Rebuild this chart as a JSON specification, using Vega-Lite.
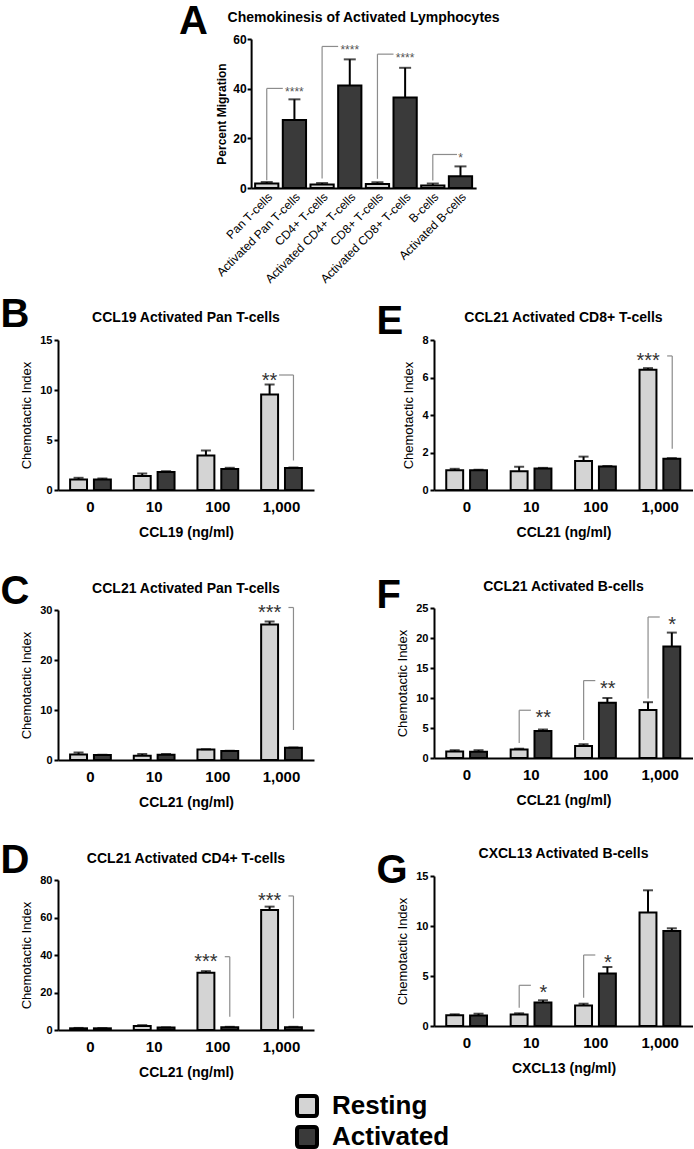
{
  "$schema": "https://vega.github.io/schema/vega-lite/v6.json",
  "padding": {"top": 1, "left": 0, "right": 0, "bottom": 0},
  "background": "white",
  "config": {
    "font": "Liberation Sans",
    "view": {"stroke": null},
    "title": {"fontSize": 14, "fontWeight": "bold", "color": "black", "anchor": "middle", "frame": "group"},
    "axis": {"grid": false, "domainColor": "black", "domainWidth": 2, "tickColor": "black", "tickWidth": 2, "labelColor": "black", "titleColor": "black", "labelOverlap": false},
    "axisX": {"ticks": false, "labelAngle": 0, "labelFontSize": 15, "labelFontWeight": "bold", "labelPadding": 9, "titleFontSize": 14, "titleFontWeight": "bold", "titlePadding": 11, "labelOverlap": false},
    "axisY": {"tickSize": 4, "tickCount": 20, "format": "d", "labelFontSize": 11, "labelFontWeight": "bold", "labelPadding": 2, "titleFontSize": 13, "titleFontWeight": "normal", "titlePadding": 6, "labelOverlap": false},
    "legend": {
      "orient": "none", "legendX": 236, "legendY": 1054,
      "symbolType": "M-0.72,-1H0.72Q1,-1 1,-0.72V0.72Q1,1 0.72,1H-0.72Q-1,1 -1,0.72V-0.72Q-1,-1 -0.72,-1Z",
      "symbolSize": 400, "symbolStrokeColor": "black", "symbolStrokeWidth": 4, "symbolOpacity": 1,
      "labelFontSize": 26, "labelFontWeight": "bold", "labelColor": "black", "rowPadding": -6, "labelOffset": 12
    }
  },
  "datasets": {
    "a_bars": [
      {"cell": "Pan T-cells", "group": "Resting", "value": 1.8, "hi": 2.4},
      {"cell": "Activated Pan T-cells", "group": "Activated", "value": 27.4, "hi": 35.7},
      {"cell": "CD4+ T-cells", "group": "Resting", "value": 1.4, "hi": 2.0},
      {"cell": "Activated CD4+ T-cells", "group": "Activated", "value": 41.3, "hi": 51.8},
      {"cell": "CD8+ T-cells", "group": "Resting", "value": 1.6, "hi": 2.3},
      {"cell": "Activated CD8+ T-cells", "group": "Activated", "value": 36.4, "hi": 48.4},
      {"cell": "B-cells", "group": "Resting", "value": 1.0, "hi": 1.8},
      {"cell": "Activated B-cells", "group": "Activated", "value": 4.7, "hi": 8.7}
    ],
    "a_sig": [
      {"rest": "Pan T-cells", "act": "Activated Pan T-cells", "stars": "****", "level": 40.1, "bottom": 3.1},
      {"rest": "CD4+ T-cells", "act": "Activated CD4+ T-cells", "stars": "****", "level": 57.0, "bottom": 3.8},
      {"rest": "CD8+ T-cells", "act": "Activated CD8+ T-cells", "stars": "****", "level": 53.9, "bottom": 3.7},
      {"rest": "B-cells", "act": "Activated B-cells", "stars": "*", "level": 13.5, "bottom": 3.0}
    ],
    "b_bars": [
      {"conc": "0", "group": "Resting", "value": 1.05, "hi": 1.22},
      {"conc": "0", "group": "Activated", "value": 1.05, "hi": 1.15},
      {"conc": "10", "group": "Resting", "value": 1.4, "hi": 1.65},
      {"conc": "10", "group": "Activated", "value": 1.8, "hi": 1.88},
      {"conc": "100", "group": "Resting", "value": 3.45, "hi": 3.95},
      {"conc": "100", "group": "Activated", "value": 2.1, "hi": 2.22},
      {"conc": "1,000", "group": "Resting", "value": 9.55, "hi": 10.55},
      {"conc": "1,000", "group": "Activated", "value": 2.2, "hi": 2.25}
    ],
    "b_sig": [{"conc": "1,000", "stars": "**", "level": 11.5, "bottom": 2.95}],
    "c_bars": [
      {"conc": "0", "group": "Resting", "value": 1.1, "hi": 1.5},
      {"conc": "0", "group": "Activated", "value": 1.0, "hi": 1.05},
      {"conc": "10", "group": "Resting", "value": 0.85, "hi": 1.2},
      {"conc": "10", "group": "Activated", "value": 1.05, "hi": 1.2},
      {"conc": "100", "group": "Resting", "value": 2.1, "hi": 2.15},
      {"conc": "100", "group": "Activated", "value": 1.8, "hi": 1.85},
      {"conc": "1,000", "group": "Resting", "value": 27.1, "hi": 27.7},
      {"conc": "1,000", "group": "Activated", "value": 2.45, "hi": 2.5}
    ],
    "c_sig": [{"conc": "1,000", "stars": "***", "level": 30.5, "bottom": 6.0}],
    "d_bars": [
      {"conc": "0", "group": "Resting", "value": 0.9, "hi": 1.1},
      {"conc": "0", "group": "Activated", "value": 0.9, "hi": 1.0},
      {"conc": "10", "group": "Resting", "value": 2.2, "hi": 2.6},
      {"conc": "10", "group": "Activated", "value": 1.3, "hi": 1.4},
      {"conc": "100", "group": "Resting", "value": 30.5, "hi": 31.4},
      {"conc": "100", "group": "Activated", "value": 1.5, "hi": 1.7},
      {"conc": "1,000", "group": "Resting", "value": 64.0, "hi": 65.8},
      {"conc": "1,000", "group": "Activated", "value": 1.5, "hi": 1.7}
    ],
    "d_sig": [
      {"conc": "100", "stars": "***", "level": 39.1, "bottom": 7.1},
      {"conc": "1,000", "stars": "***", "level": 71.5, "bottom": 6.2}
    ],
    "e_bars": [
      {"conc": "0", "group": "Resting", "value": 1.05, "hi": 1.13},
      {"conc": "0", "group": "Activated", "value": 1.05, "hi": 1.08},
      {"conc": "10", "group": "Resting", "value": 1.0, "hi": 1.24},
      {"conc": "10", "group": "Activated", "value": 1.15, "hi": 1.18},
      {"conc": "100", "group": "Resting", "value": 1.55, "hi": 1.78},
      {"conc": "100", "group": "Activated", "value": 1.25, "hi": 1.28},
      {"conc": "1,000", "group": "Resting", "value": 6.42, "hi": 6.5},
      {"conc": "1,000", "group": "Activated", "value": 1.67, "hi": 1.7}
    ],
    "e_sig": [{"conc": "1,000", "stars": "***", "level": 7.15, "bottom": 2.2}],
    "f_bars": [
      {"conc": "0", "group": "Resting", "value": 1.1, "hi": 1.3},
      {"conc": "0", "group": "Activated", "value": 1.05, "hi": 1.3},
      {"conc": "10", "group": "Resting", "value": 1.4, "hi": 1.55},
      {"conc": "10", "group": "Activated", "value": 4.5, "hi": 4.75},
      {"conc": "100", "group": "Resting", "value": 2.0, "hi": 2.3},
      {"conc": "100", "group": "Activated", "value": 9.2, "hi": 10.0},
      {"conc": "1,000", "group": "Resting", "value": 8.0, "hi": 9.3},
      {"conc": "1,000", "group": "Activated", "value": 18.6, "hi": 20.9}
    ],
    "f_sig": [
      {"conc": "10", "stars": "**", "level": 7.96, "bottom": 2.5},
      {"conc": "100", "stars": "**", "level": 12.9, "bottom": 3.0},
      {"conc": "1,000", "stars": "*", "level": 23.5, "bottom": 9.9}
    ],
    "g_bars": [
      {"conc": "0", "group": "Resting", "value": 1.07, "hi": 1.17},
      {"conc": "0", "group": "Activated", "value": 1.05, "hi": 1.23},
      {"conc": "10", "group": "Resting", "value": 1.15, "hi": 1.27},
      {"conc": "10", "group": "Activated", "value": 2.35, "hi": 2.57},
      {"conc": "100", "group": "Resting", "value": 2.05, "hi": 2.23},
      {"conc": "100", "group": "Activated", "value": 5.25, "hi": 5.9},
      {"conc": "1,000", "group": "Resting", "value": 11.35, "hi": 13.57},
      {"conc": "1,000", "group": "Activated", "value": 9.5, "hi": 9.77}
    ],
    "g_sig": [
      {"conc": "10", "stars": "*", "level": 4.07, "bottom": 1.83},
      {"conc": "100", "stars": "*", "level": 7.1, "bottom": 2.83}
    ]
  },
  "spacing": 10,
  "center": true,
  "vconcat": [
    {
      "width": 225, "height": 149,
      "title": {"text": "Chemokinesis of Activated Lymphocytes", "offset": -23.3},
      "layer": [
        {"data": {"name": "a_bars"}, "mark": {"type": "bar", "stroke": "black", "strokeWidth": 2},
         "encoding": {
           "x": {"field": "cell", "type": "nominal", "scale": {"domain": ["Pan T-cells", "Activated Pan T-cells", "CD4+ T-cells", "Activated CD4+ T-cells", "CD8+ T-cells", "Activated CD8+ T-cells", "B-cells", "Activated B-cells"], "paddingInner": 0.16, "paddingOuter": 0.145},
                 "axis": {"title": null, "labelAngle": -45, "labelFontSize": 12, "labelFontWeight": "normal", "labelPadding": 3, "labelOverlap": false}},
           "y": {"field": "value", "type": "quantitative", "scale": {"domain": [0, 60], "nice": false},
                 "axis": {"values": [0, 20, 40, 60], "title": "Percent Migration", "titleFontWeight": "bold", "titleFontSize": 12, "labelFontSize": 12, "labelPadding": 1, "titlePadding": 4}},
           "fill": {"field": "group", "type": "nominal", "scale": {"domain": ["Resting", "Activated"], "range": ["#d4d4d4", "#3a3a3a"]}, "legend": {"title": null}}
         }},
        {"data": {"name": "a_bars"}, "mark": {"type": "rule", "color": "black", "strokeWidth": 2},
         "encoding": {"x": {"field": "cell", "type": "nominal"}, "y": {"field": "value", "type": "quantitative"}, "y2": {"field": "hi"}}},
        {"data": {"name": "a_bars"}, "mark": {"type": "tick", "orient": "horizontal", "size": 12, "thickness": 2, "color": "black"},
         "encoding": {"x": {"field": "cell", "type": "nominal"}, "y": {"field": "hi", "type": "quantitative"}}},
        {"data": {"name": "a_sig"}, "mark": {"type": "rule", "color": "#8c8c8c", "strokeWidth": 1.2},
         "encoding": {"x": {"field": "rest", "type": "nominal"}, "y": {"field": "level", "type": "quantitative"}, "y2": {"field": "bottom"}}},
        {"data": {"name": "a_sig"}, "transform": [{"filter": "datum.stars != '*'"}], "mark": {"type": "rule", "color": "#8c8c8c", "strokeWidth": 1.2},
         "encoding": {"x": {"field": "rest", "type": "nominal"}, "x2": {"field": "act", "bandPosition": 0}, "y": {"field": "level", "type": "quantitative"}}},
        {"data": {"name": "a_sig"}, "transform": [{"filter": "datum.stars == '*'"}], "mark": {"type": "rule", "color": "#8c8c8c", "strokeWidth": 1.2},
         "encoding": {"x": {"field": "rest", "type": "nominal"}, "x2": {"field": "act", "bandPosition": 0.35}, "y": {"field": "level", "type": "quantitative"}}},
        {"data": {"name": "a_sig"}, "mark": {"type": "text", "fontSize": 12, "color": "#555555", "baseline": "middle", "dy": 3.5},
         "encoding": {"x": {"field": "act", "type": "nominal"}, "y": {"field": "level", "type": "quantitative"}, "text": {"field": "stars", "type": "nominal"}}},
        {"data": {"values": [{"letter": "A"}]}, "mark": {"type": "text", "fontSize": 40, "fontWeight": "bold", "align": "left", "baseline": "alphabetic", "dx": -184.5, "dy": -79.8, "color": "black"},
         "encoding": {"text": {"field": "letter", "type": "nominal"}}}
      ]
    },
    {
      "bounds": "flush",
      "spacing": 376,
      "hconcat": [
        {
          "bounds": "flush",
          "spacing": 120,
          "vconcat": [
            {
              "width": 256, "height": 150,
              "title": {"text": "CCL19 Activated Pan T-cells", "offset": -29.7},
              "layer": [
                {"data": {"name": "b_bars"}, "mark": {"type": "bar", "stroke": "black", "strokeWidth": 2},
                 "encoding": {
                   "x": {"field": "conc", "type": "nominal", "scale": {"domain": ["0", "10", "100", "1,000"], "paddingInner": 0.36, "paddingOuter": 0.19}, "axis": {"title": "CCL19 (ng/ml)"}},
                   "xOffset": {"field": "group", "type": "nominal", "scale": {"domain": ["Resting", "Activated"], "paddingInner": 0.29, "paddingOuter": 0}},
                   "y": {"field": "value", "type": "quantitative", "scale": {"domain": [0, 15], "nice": false}, "axis": {"values": [0, 5, 10, 15], "title": "Chemotactic Index"}},
                   "fill": {"field": "group", "type": "nominal", "scale": {"domain": ["Resting", "Activated"], "range": ["#d4d4d4", "#3a3a3a"]}, "legend": {"title": null}}
                 }},
                {"data": {"name": "b_bars"}, "mark": {"type": "rule", "color": "black", "strokeWidth": 2},
                 "encoding": {"x": {"field": "conc", "type": "nominal"}, "xOffset": {"field": "group", "type": "nominal"}, "y": {"field": "value", "type": "quantitative"}, "y2": {"field": "hi"}}},
                {"data": {"name": "b_bars"}, "mark": {"type": "tick", "orient": "horizontal", "size": 10, "thickness": 2, "color": "black"},
                 "encoding": {"x": {"field": "conc", "type": "nominal"}, "xOffset": {"field": "group", "type": "nominal"}, "y": {"field": "hi", "type": "quantitative"}}},
                {"data": {"name": "b_sig"}, "mark": {"type": "rule", "color": "#8c8c8c", "strokeWidth": 1.2},
                 "encoding": {"x": {"field": "conc", "type": "nominal", "bandPosition": 0.44}, "x2": {"field": "conc", "bandPosition": 0.793}, "y": {"field": "level", "type": "quantitative"}}},
                {"data": {"name": "b_sig"}, "mark": {"type": "rule", "color": "#8c8c8c", "strokeWidth": 1.2},
                 "encoding": {"x": {"field": "conc", "type": "nominal", "bandPosition": 0.793}, "y": {"field": "level", "type": "quantitative"}, "y2": {"field": "bottom"}}},
                {"data": {"name": "b_sig"}, "mark": {"type": "text", "fontSize": 20, "color": "#333333", "baseline": "middle", "dy": 5.5},
                 "encoding": {"x": {"field": "conc", "type": "nominal", "bandPosition": 0.207}, "y": {"field": "level", "type": "quantitative"}, "text": {"field": "stars", "type": "nominal"}}},
                {"data": {"values": [{"letter": "B"}]}, "mark": {"type": "text", "fontSize": 40, "fontWeight": "bold", "align": "left", "baseline": "alphabetic", "dx": -185.5, "dy": -88, "color": "black"},
                 "encoding": {"text": {"field": "letter", "type": "nominal"}}}
              ]
            },
            {
              "width": 256, "height": 150,
              "title": {"text": "CCL21 Activated Pan T-cells", "offset": -24.5},
              "layer": [
                {"data": {"name": "c_bars"}, "mark": {"type": "bar", "stroke": "black", "strokeWidth": 2},
                 "encoding": {
                   "x": {"field": "conc", "type": "nominal", "scale": {"domain": ["0", "10", "100", "1,000"], "paddingInner": 0.36, "paddingOuter": 0.19}, "axis": {"title": "CCL21 (ng/ml)"}},
                   "xOffset": {"field": "group", "type": "nominal", "scale": {"domain": ["Resting", "Activated"], "paddingInner": 0.29, "paddingOuter": 0}},
                   "y": {"field": "value", "type": "quantitative", "scale": {"domain": [0, 30], "nice": false}, "axis": {"values": [0, 10, 20, 30], "title": "Chemotactic Index"}},
                   "fill": {"field": "group", "type": "nominal", "scale": {"domain": ["Resting", "Activated"], "range": ["#d4d4d4", "#3a3a3a"]}, "legend": {"title": null}}
                 }},
                {"data": {"name": "c_bars"}, "mark": {"type": "rule", "color": "black", "strokeWidth": 2},
                 "encoding": {"x": {"field": "conc", "type": "nominal"}, "xOffset": {"field": "group", "type": "nominal"}, "y": {"field": "value", "type": "quantitative"}, "y2": {"field": "hi"}}},
                {"data": {"name": "c_bars"}, "mark": {"type": "tick", "orient": "horizontal", "size": 10, "thickness": 2, "color": "black"},
                 "encoding": {"x": {"field": "conc", "type": "nominal"}, "xOffset": {"field": "group", "type": "nominal"}, "y": {"field": "hi", "type": "quantitative"}}},
                {"data": {"name": "c_sig"}, "mark": {"type": "rule", "color": "#8c8c8c", "strokeWidth": 1.2},
                 "encoding": {"x": {"field": "conc", "type": "nominal", "bandPosition": 0.67}, "x2": {"field": "conc", "bandPosition": 0.793}, "y": {"field": "level", "type": "quantitative"}}},
                {"data": {"name": "c_sig"}, "mark": {"type": "rule", "color": "#8c8c8c", "strokeWidth": 1.2},
                 "encoding": {"x": {"field": "conc", "type": "nominal", "bandPosition": 0.793}, "y": {"field": "level", "type": "quantitative"}, "y2": {"field": "bottom"}}},
                {"data": {"name": "c_sig"}, "mark": {"type": "text", "fontSize": 20, "color": "#333333", "baseline": "middle", "dy": 5.5},
                 "encoding": {"x": {"field": "conc", "type": "nominal", "bandPosition": 0.207}, "y": {"field": "level", "type": "quantitative"}, "text": {"field": "stars", "type": "nominal"}}},
                {"data": {"values": [{"letter": "C"}]}, "mark": {"type": "text", "fontSize": 40, "fontWeight": "bold", "align": "left", "baseline": "alphabetic", "dx": -185.5, "dy": -81.5, "color": "black"},
                 "encoding": {"text": {"field": "letter", "type": "nominal"}}}
              ]
            },
            {
              "width": 256, "height": 150,
              "title": {"text": "CCL21 Activated CD4+ T-cells", "offset": -25},
              "layer": [
                {"data": {"name": "d_bars"}, "mark": {"type": "bar", "stroke": "black", "strokeWidth": 2},
                 "encoding": {
                   "x": {"field": "conc", "type": "nominal", "scale": {"domain": ["0", "10", "100", "1,000"], "paddingInner": 0.36, "paddingOuter": 0.19}, "axis": {"title": "CCL21 (ng/ml)"}},
                   "xOffset": {"field": "group", "type": "nominal", "scale": {"domain": ["Resting", "Activated"], "paddingInner": 0.29, "paddingOuter": 0}},
                   "y": {"field": "value", "type": "quantitative", "scale": {"domain": [0, 80], "nice": false}, "axis": {"values": [0, 20, 40, 60, 80], "title": "Chemotactic Index"}},
                   "fill": {"field": "group", "type": "nominal", "scale": {"domain": ["Resting", "Activated"], "range": ["#d4d4d4", "#3a3a3a"]}, "legend": {"title": null}}
                 }},
                {"data": {"name": "d_bars"}, "mark": {"type": "rule", "color": "black", "strokeWidth": 2},
                 "encoding": {"x": {"field": "conc", "type": "nominal"}, "xOffset": {"field": "group", "type": "nominal"}, "y": {"field": "value", "type": "quantitative"}, "y2": {"field": "hi"}}},
                {"data": {"name": "d_bars"}, "mark": {"type": "tick", "orient": "horizontal", "size": 10, "thickness": 2, "color": "black"},
                 "encoding": {"x": {"field": "conc", "type": "nominal"}, "xOffset": {"field": "group", "type": "nominal"}, "y": {"field": "hi", "type": "quantitative"}}},
                {"data": {"name": "d_sig"}, "mark": {"type": "rule", "color": "#8c8c8c", "strokeWidth": 1.2},
                 "encoding": {"x": {"field": "conc", "type": "nominal", "bandPosition": 0.67}, "x2": {"field": "conc", "bandPosition": 0.793}, "y": {"field": "level", "type": "quantitative"}}},
                {"data": {"name": "d_sig"}, "mark": {"type": "rule", "color": "#8c8c8c", "strokeWidth": 1.2},
                 "encoding": {"x": {"field": "conc", "type": "nominal", "bandPosition": 0.793}, "y": {"field": "level", "type": "quantitative"}, "y2": {"field": "bottom"}}},
                {"data": {"name": "d_sig"}, "mark": {"type": "text", "fontSize": 20, "color": "#333333", "baseline": "middle", "dy": 5.5},
                 "encoding": {"x": {"field": "conc", "type": "nominal", "bandPosition": 0.207}, "y": {"field": "level", "type": "quantitative"}, "text": {"field": "stars", "type": "nominal"}}},
                {"data": {"values": [{"letter": "D"}]}, "mark": {"type": "text", "fontSize": 40, "fontWeight": "bold", "align": "left", "baseline": "alphabetic", "dx": -185.5, "dy": -82, "color": "black"},
                 "encoding": {"text": {"field": "letter", "type": "nominal"}}}
              ]
            }
          ]
        },
        {
          "bounds": "flush",
          "spacing": 118,
          "vconcat": [
            {
              "width": 259, "height": 150,
              "title": {"text": "CCL21 Activated CD8+ T-cells", "offset": -23},
              "layer": [
                {"data": {"name": "e_bars"}, "mark": {"type": "bar", "stroke": "black", "strokeWidth": 2},
                 "encoding": {
                   "x": {"field": "conc", "type": "nominal", "scale": {"domain": ["0", "10", "100", "1,000"], "paddingInner": 0.36, "paddingOuter": 0.19}, "axis": {"title": "CCL21 (ng/ml)"}},
                   "xOffset": {"field": "group", "type": "nominal", "scale": {"domain": ["Resting", "Activated"], "paddingInner": 0.29, "paddingOuter": 0}},
                   "y": {"field": "value", "type": "quantitative", "scale": {"domain": [0, 8], "nice": false}, "axis": {"values": [0, 2, 4, 6, 8], "title": "Chemotactic Index"}},
                   "fill": {"field": "group", "type": "nominal", "scale": {"domain": ["Resting", "Activated"], "range": ["#d4d4d4", "#3a3a3a"]}, "legend": {"title": null}}
                 }},
                {"data": {"name": "e_bars"}, "mark": {"type": "rule", "color": "black", "strokeWidth": 2},
                 "encoding": {"x": {"field": "conc", "type": "nominal"}, "xOffset": {"field": "group", "type": "nominal"}, "y": {"field": "value", "type": "quantitative"}, "y2": {"field": "hi"}}},
                {"data": {"name": "e_bars"}, "mark": {"type": "tick", "orient": "horizontal", "size": 10, "thickness": 2, "color": "black"},
                 "encoding": {"x": {"field": "conc", "type": "nominal"}, "xOffset": {"field": "group", "type": "nominal"}, "y": {"field": "hi", "type": "quantitative"}}},
                {"data": {"name": "e_sig"}, "mark": {"type": "rule", "color": "#8c8c8c", "strokeWidth": 1.2},
                 "encoding": {"x": {"field": "conc", "type": "nominal", "bandPosition": 0.67}, "x2": {"field": "conc", "bandPosition": 0.793}, "y": {"field": "level", "type": "quantitative"}}},
                {"data": {"name": "e_sig"}, "mark": {"type": "rule", "color": "#8c8c8c", "strokeWidth": 1.2},
                 "encoding": {"x": {"field": "conc", "type": "nominal", "bandPosition": 0.793}, "y": {"field": "level", "type": "quantitative"}, "y2": {"field": "bottom"}}},
                {"data": {"name": "e_sig"}, "mark": {"type": "text", "fontSize": 20, "color": "#333333", "baseline": "middle", "dy": 5.5},
                 "encoding": {"x": {"field": "conc", "type": "nominal", "bandPosition": 0.207}, "y": {"field": "level", "type": "quantitative"}, "text": {"field": "stars", "type": "nominal"}}},
                {"data": {"values": [{"letter": "E"}]}, "mark": {"type": "text", "fontSize": 40, "fontWeight": "bold", "align": "left", "baseline": "alphabetic", "dx": -187, "dy": -81.3, "color": "black"},
                 "encoding": {"text": {"field": "letter", "type": "nominal"}}}
              ]
            },
            {
              "width": 259, "height": 150,
              "title": {"text": "CCL21 Activated B-cells", "offset": -18.3},
              "layer": [
                {"data": {"name": "f_bars"}, "mark": {"type": "bar", "stroke": "black", "strokeWidth": 2},
                 "encoding": {
                   "x": {"field": "conc", "type": "nominal", "scale": {"domain": ["0", "10", "100", "1,000"], "paddingInner": 0.36, "paddingOuter": 0.19}, "axis": {"title": "CCL21 (ng/ml)"}},
                   "xOffset": {"field": "group", "type": "nominal", "scale": {"domain": ["Resting", "Activated"], "paddingInner": 0.29, "paddingOuter": 0}},
                   "y": {"field": "value", "type": "quantitative", "scale": {"domain": [0, 25], "nice": false}, "axis": {"values": [0, 5, 10, 15, 20, 25], "title": "Chemotactic Index"}},
                   "fill": {"field": "group", "type": "nominal", "scale": {"domain": ["Resting", "Activated"], "range": ["#d4d4d4", "#3a3a3a"]}, "legend": {"title": null}}
                 }},
                {"data": {"name": "f_bars"}, "mark": {"type": "rule", "color": "black", "strokeWidth": 2},
                 "encoding": {"x": {"field": "conc", "type": "nominal"}, "xOffset": {"field": "group", "type": "nominal"}, "y": {"field": "value", "type": "quantitative"}, "y2": {"field": "hi"}}},
                {"data": {"name": "f_bars"}, "mark": {"type": "tick", "orient": "horizontal", "size": 10, "thickness": 2, "color": "black"},
                 "encoding": {"x": {"field": "conc", "type": "nominal"}, "xOffset": {"field": "group", "type": "nominal"}, "y": {"field": "hi", "type": "quantitative"}}},
                {"data": {"name": "f_sig"}, "mark": {"type": "rule", "color": "#8c8c8c", "strokeWidth": 1.2},
                 "encoding": {"x": {"field": "conc", "type": "nominal", "bandPosition": 0.207}, "x2": {"field": "conc", "bandPosition": 0.49}, "y": {"field": "level", "type": "quantitative"}}},
                {"data": {"name": "f_sig"}, "mark": {"type": "rule", "color": "#8c8c8c", "strokeWidth": 1.2},
                 "encoding": {"x": {"field": "conc", "type": "nominal", "bandPosition": 0.207}, "y": {"field": "level", "type": "quantitative"}, "y2": {"field": "bottom"}}},
                {"data": {"name": "f_sig"}, "mark": {"type": "text", "fontSize": 20, "color": "#333333", "baseline": "middle", "dy": 8},
                 "encoding": {"x": {"field": "conc", "type": "nominal", "bandPosition": 0.793}, "y": {"field": "level", "type": "quantitative"}, "text": {"field": "stars", "type": "nominal"}}},
                {"data": {"values": [{"letter": "F"}]}, "mark": {"type": "text", "fontSize": 40, "fontWeight": "bold", "align": "left", "baseline": "alphabetic", "dx": -187, "dy": -75.3, "color": "black"},
                 "encoding": {"text": {"field": "letter", "type": "nominal"}}}
              ]
            },
            {
              "width": 259, "height": 150,
              "title": {"text": "CXCL13 Activated B-cells", "offset": -10},
              "layer": [
                {"data": {"name": "g_bars"}, "mark": {"type": "bar", "stroke": "black", "strokeWidth": 2},
                 "encoding": {
                   "x": {"field": "conc", "type": "nominal", "scale": {"domain": ["0", "10", "100", "1,000"], "paddingInner": 0.36, "paddingOuter": 0.19}, "axis": {"title": "CXCL13 (ng/ml)"}},
                   "xOffset": {"field": "group", "type": "nominal", "scale": {"domain": ["Resting", "Activated"], "paddingInner": 0.29, "paddingOuter": 0}},
                   "y": {"field": "value", "type": "quantitative", "scale": {"domain": [0, 15], "nice": false}, "axis": {"values": [0, 5, 10, 15], "title": "Chemotactic Index"}},
                   "fill": {"field": "group", "type": "nominal", "scale": {"domain": ["Resting", "Activated"], "range": ["#d4d4d4", "#3a3a3a"]}, "legend": {"title": null}}
                 }},
                {"data": {"name": "g_bars"}, "mark": {"type": "rule", "color": "black", "strokeWidth": 2},
                 "encoding": {"x": {"field": "conc", "type": "nominal"}, "xOffset": {"field": "group", "type": "nominal"}, "y": {"field": "value", "type": "quantitative"}, "y2": {"field": "hi"}}},
                {"data": {"name": "g_bars"}, "mark": {"type": "tick", "orient": "horizontal", "size": 10, "thickness": 2, "color": "black"},
                 "encoding": {"x": {"field": "conc", "type": "nominal"}, "xOffset": {"field": "group", "type": "nominal"}, "y": {"field": "hi", "type": "quantitative"}}},
                {"data": {"name": "g_sig"}, "mark": {"type": "rule", "color": "#8c8c8c", "strokeWidth": 1.2},
                 "encoding": {"x": {"field": "conc", "type": "nominal", "bandPosition": 0.207}, "x2": {"field": "conc", "bandPosition": 0.49}, "y": {"field": "level", "type": "quantitative"}}},
                {"data": {"name": "g_sig"}, "mark": {"type": "rule", "color": "#8c8c8c", "strokeWidth": 1.2},
                 "encoding": {"x": {"field": "conc", "type": "nominal", "bandPosition": 0.207}, "y": {"field": "level", "type": "quantitative"}, "y2": {"field": "bottom"}}},
                {"data": {"name": "g_sig"}, "mark": {"type": "text", "fontSize": 20, "color": "#333333", "baseline": "middle", "dy": 8},
                 "encoding": {"x": {"field": "conc", "type": "nominal", "bandPosition": 0.793}, "y": {"field": "level", "type": "quantitative"}, "text": {"field": "stars", "type": "nominal"}}},
                {"data": {"values": [{"letter": "G"}]}, "mark": {"type": "text", "fontSize": 40, "fontWeight": "bold", "align": "left", "baseline": "alphabetic", "dx": -187, "dy": -68.3, "color": "black"},
                 "encoding": {"text": {"field": "letter", "type": "nominal"}}}
              ]
            }
          ]
        }
      ]
    }
  ]
}
